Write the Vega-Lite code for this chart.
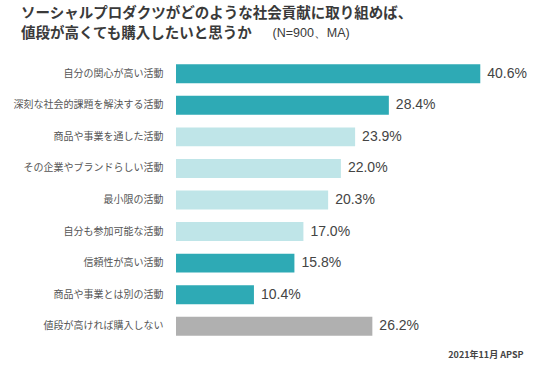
{
  "$schema": "https://vega.github.io/schema/vega-lite/v6.json",
  "width": 347,
  "height": 284,
  "autosize": {"type": "none"},
  "padding": {"left": 176, "top": 58, "right": 17, "bottom": 23},
  "background": "white",
  "config": {"view": {"stroke": null}},
  "title": {
    "text": ["ソーシャルプロダクツがどのような社会貢献に取り組めば、", "値段が高くても購入したいと思うか"],
    "anchor": "start",
    "frame": "group",
    "dx": -155,
    "dy": 31,
    "offset": 16,
    "font": "Noto Sans CJK JP",
    "fontSize": 14.5,
    "fontWeight": "bold",
    "color": "#3a3a3a",
    "lineHeight": 20
  },
  "data": {
    "values": [
      {"item": "自分の関心が高い活動", "value": 40.6, "group": "dark"},
      {"item": "深刻な社会的課題を解決する活動", "value": 28.4, "group": "dark"},
      {"item": "商品や事業を通した活動", "value": 23.9, "group": "light"},
      {"item": "その企業やブランドらしい活動", "value": 22.0, "group": "light"},
      {"item": "最小限の活動", "value": 20.3, "group": "light"},
      {"item": "自分も参加可能な活動", "value": 17.0, "group": "light"},
      {"item": "信頼性が高い活動", "value": 15.8, "group": "dark"},
      {"item": "商品や事業とは別の活動", "value": 10.4, "group": "dark"},
      {"item": "値段が高ければ購入しない", "value": 26.2, "group": "gray"}
    ]
  },
  "transform": [
    {"calculate": "format(datum.value, '.1f') + '%'", "as": "label"}
  ],
  "encoding": {
    "y": {
      "field": "item",
      "type": "nominal",
      "sort": null,
      "scale": {"paddingInner": 0.4, "paddingOuter": 0.2},
      "axis": {
        "title": "(N=900、MA)",
        "titleAngle": 0,
        "titleX": 96,
        "titleY": -26,
        "titleAlign": "left",
        "titleBaseline": "middle",
        "titleFont": "Liberation Sans",
        "titleFontSize": 12.5,
        "titleFontWeight": "normal",
        "titleColor": "#3a3a3a",
        "ticks": false,
        "domain": false,
        "labelPadding": 13,
        "labelFont": "Noto Sans CJK JP",
        "labelFontSize": 10,
        "labelColor": "#555555"
      }
    },
    "x": {
      "field": "value",
      "type": "quantitative",
      "scale": {"domain": [0, 46.3], "nice": false},
      "axis": {
        "grid": false,
        "labels": false,
        "ticks": false,
        "domain": false,
        "title": "2021年11月 APSP",
        "titleAnchor": "end",
        "titleFont": "Noto Sans CJK JP",
        "titleFontSize": 9,
        "titleFontWeight": "bold",
        "titleColor": "#444444",
        "titlePadding": 8
      }
    }
  },
  "layer": [
    {
      "mark": {"type": "bar"},
      "encoding": {
        "color": {
          "field": "group",
          "type": "nominal",
          "scale": {"domain": ["dark", "light", "gray"], "range": ["#2eaab5", "#bfe5e8", "#b0b0b0"]},
          "legend": null
        }
      }
    },
    {
      "mark": {"type": "text", "align": "left", "baseline": "middle", "dx": 7, "font": "Liberation Sans", "fontSize": 14, "color": "#444444"},
      "encoding": {
        "text": {"field": "label", "type": "nominal"}
      }
    }
  ]
}
